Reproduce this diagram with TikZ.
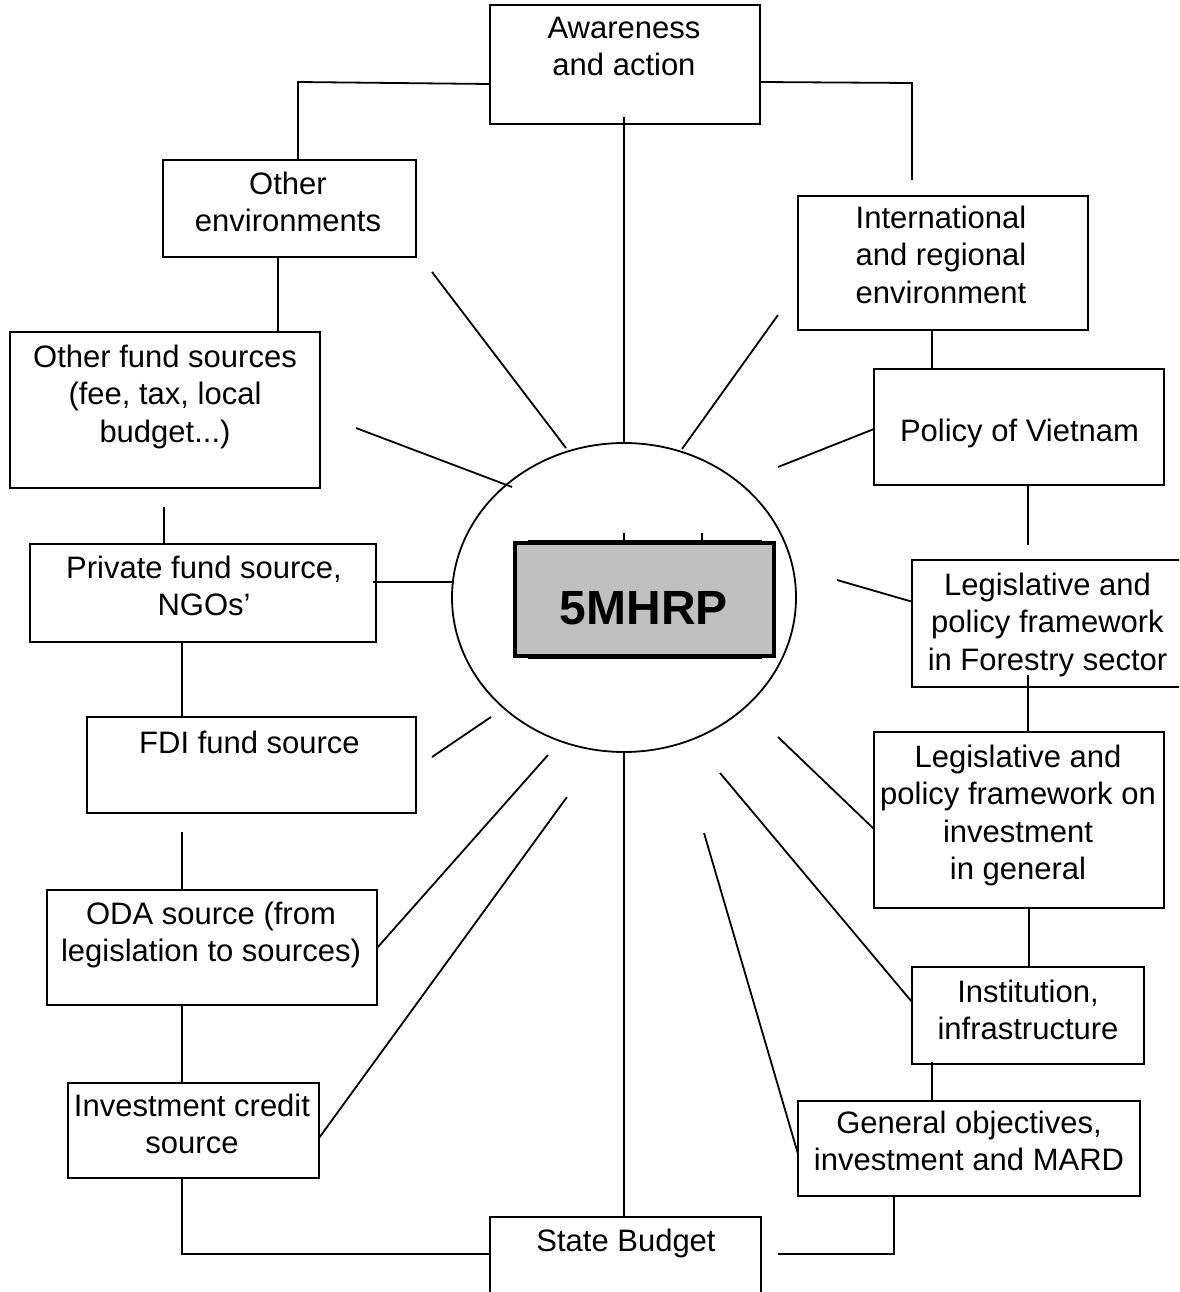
\documentclass[tikz,border=0pt]{standalone}
\usepackage{fontspec}
\setmainfont{Liberation Sans}
\usetikzlibrary{shapes.geometric}
\definecolor{coregray}{RGB}{192,192,192}
\begin{document}
\begin{tikzpicture}[x=1pt,y=-1pt,
  box/.style={draw, line width=1.8pt, inner sep=0pt, rectangle},
  txt/.style={font=\fontsize{31}{37.5}\selectfont, align=center, inner sep=0pt, anchor=north, yshift=-2pt},
  link/.style={line width=1.8pt}]
\useasboundingbox (0,0) rectangle (1179,1292);
\clip (0,0) rectangle (1179,1292);

% boxes
\node[box, minimum width=270pt, minimum height=119pt] (aw) at (625,64.5) {};
\node[txt] (awt) at (624,14.5) {Awareness\\and action};
\node[box, minimum width=253pt, minimum height=97pt] (oe) at (289.5,208.5) {};
\node[txt] (oet) at (288,169.5) {Other\\environments};
\node[box, minimum width=290pt, minimum height=134pt] (ir) at (943,263) {};
\node[txt] (irt) at (941,203.5) {International\\and regional\\environment};
\node[box, minimum width=310pt, minimum height=156pt] (of) at (165,410) {};
\node[txt] (oft) at (165,342.5) {Other fund sources\\(fee, tax, local\\budget...)};
\node[box, minimum width=290pt, minimum height=116pt] (pv) at (1019,427) {};
\node[txt] (pvt) at (1019.5,416.5) {Policy of Vietnam};
\node[box, minimum width=346pt, minimum height=98pt] (pf) at (203,593) {};
\node[txt] (pft) at (204,553.5) {Private fund source,\\NGOs’};
\node[box, minimum width=278pt, minimum height=127pt] (lf) at (1051,623.5) {};
\node[txt] (lft) at (1047.5,570.5) {Legislative and\\policy framework\\in Forestry sector};
\node[box, minimum width=329pt, minimum height=96pt] (fdi) at (251.5,765) {};
\node[txt] (fdit) at (249.5,728.5) {FDI fund source};
\node[box, minimum width=290pt, minimum height=176pt] (lg) at (1019,820) {};
\node[txt] (lgt) at (1018,742.5) {Legislative and\\policy framework on\\investment\\in general};
\node[box, minimum width=330pt, minimum height=115pt] (oda) at (212,947.5) {};
\node[txt] (odat) at (211,899.5) {ODA source (from\\legislation to sources)};
\node[box, minimum width=232pt, minimum height=97pt] (ii) at (1028,1015.5) {};
\node[txt] (iit) at (1028,977.5) {Institution,\\infrastructure};
\node[box, minimum width=251pt, minimum height=95pt] (ic) at (193.5,1130.5) {};
\node[txt] (ict) at (192,1091.5) {Investment credit\\source};
\node[box, minimum width=342pt, minimum height=95pt] (go) at (969,1148.5) {};
\node[txt] (got) at (969,1108.5) {General objectives,\\investment and MARD};
\node[box, minimum width=271pt, minimum height=93pt] (sb) at (625.5,1263.5) {};
\node[txt] (sbt) at (626,1226.5) {State Budget};

% centre
\node[draw, ellipse, line width=1.8pt, inner sep=0pt, minimum width=344pt, minimum height=309pt] (ell) at (624,597.5) {};
\node[draw, line width=1pt, inner sep=0pt, minimum width=233pt, minimum height=118pt] (back) at (644.5,599) {};
\coordinate (tk1) at (624,533);
\coordinate (tk2) at (702,533);
\draw[line width=1.5pt] (tk1) -- (tk1 |- back.north);
\draw[line width=1.5pt] (tk2) -- (tk2 |- back.north);
\node[draw, line width=3.5pt, fill=coregray, inner sep=0pt, minimum width=259pt, minimum height=113pt] (core) at (644.5,599.5) {};
\node[font=\bfseries\fontsize{48}{55}\selectfont, inner sep=0pt] (coret) at (644,608) {5MHRP};

% tree connectors
\coordinate (a1) at (490,84);
\coordinate (a2) at (298,82);
\draw[link] (a1) -- (a2) -- (a2 |- oe.north);
\coordinate (b1) at (760,82);
\coordinate (b2) at (912,83);
\coordinate (b3) at (912,180);
\draw[link] (b1) -- (b2) -- (b3);
\coordinate (c1) at (278,257);
\draw[link] (c1) -- (c1 |- of.north);
\coordinate (d1) at (932,330);
\draw[link] (d1) -- (d1 |- pv.north);
\coordinate (e1) at (1028,485);
\coordinate (e2) at (1028,545);
\draw[link] (e1) -- (e2);
\coordinate (f1) at (1028,675);
\draw[link] (f1) -- (f1 |- lg.north);
\coordinate (g1) at (1029,908);
\draw[link] (g1) -- (g1 |- ii.north);
\coordinate (h1) at (932,1062);
\draw[link] (h1) -- (h1 |- go.north);
\coordinate (i1) at (164,507);
\draw[link] (i1) -- (i1 |- pf.north);
\coordinate (j1) at (182,642);
\draw[link] (j1) -- (j1 |- fdi.north);
\coordinate (k1) at (182,832);
\draw[link] (k1) -- (k1 |- oda.north);
\coordinate (l1) at (182,1005);
\draw[link] (l1) -- (l1 |- ic.north);
\coordinate (m1) at (182,1178);
\coordinate (m2) at (182,1254);
\draw[link] (m1) -- (m2) -- (m2 -| sb.west);
\coordinate (n1) at (894,1196);
\coordinate (n2) at (894,1254);
\coordinate (n3) at (778,1254);
\draw[link] (n1) -- (n2) -- (n3);
\coordinate (o1) at (624,117);
\draw[link] (o1) -- (ell.north);
\draw[link] (ell.south) -- (ell.south |- sb.north);

% spokes
\coordinate (s1a) at (432,272);  \coordinate (s1b) at (566,448);
\coordinate (s2a) at (778,315);  \coordinate (s2b) at (682,449);
\coordinate (s3a) at (356,428);  \coordinate (s3b) at (512,487);
\coordinate (s4a) at (778,467);  \coordinate (s4b) at (874,429);
\coordinate (s5a) at (373,582);  \coordinate (s5b) at (454,582);
\coordinate (s6a) at (837,580);  \coordinate (s6b) at (913,602);
\coordinate (s7a) at (432,757);  \coordinate (s7b) at (491,717);
\coordinate (s8a) at (778,737);  \coordinate (s8b) at (874,829);
\coordinate (s9a) at (377,948);  \coordinate (s9b) at (548,755);
\coordinate (s10a) at (720,773); \coordinate (s10b) at (912,1002);
\coordinate (s11a) at (319,1138); \coordinate (s11b) at (567,797);
\coordinate (s12a) at (704,833); \coordinate (s12b) at (798,1154);
\foreach \i in {1,...,12} {\draw[link] (s\i a) -- (s\i b);}
\end{tikzpicture}
\end{document}
